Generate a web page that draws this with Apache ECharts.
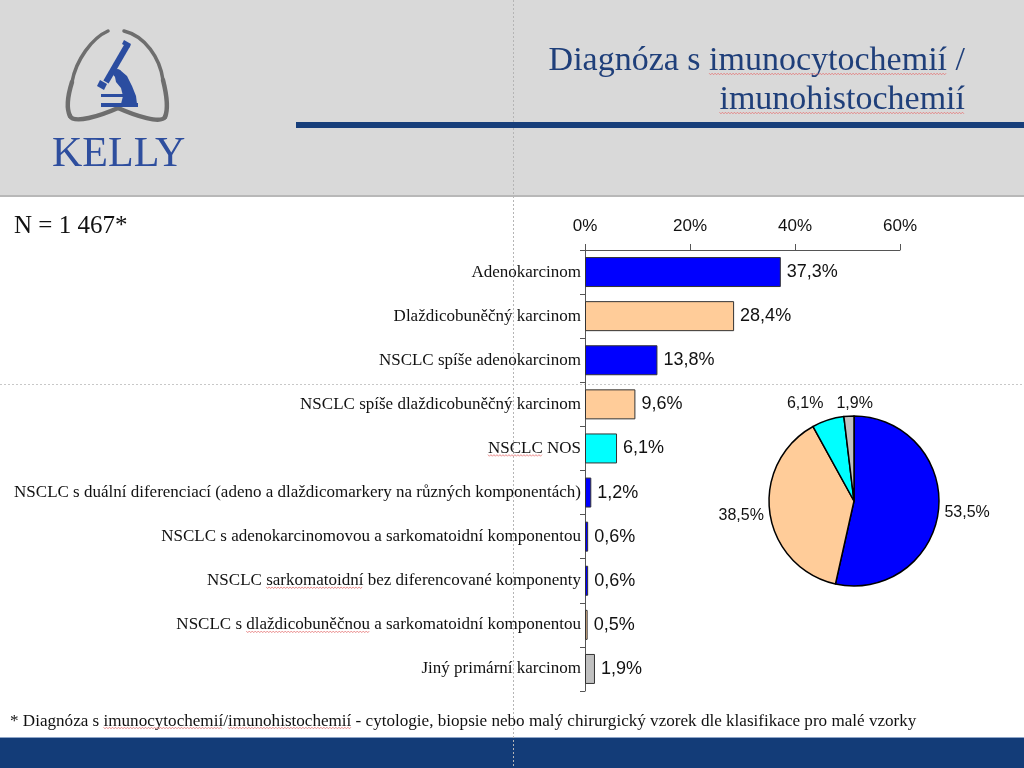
<!DOCTYPE html>
<html><head><meta charset="utf-8">
<script src="https://cdn.jsdelivr.net/npm/echarts@6/dist/echarts.min.js"></script>
<style>html,body{margin:0;padding:0;background:#fff;}#c{width:1024px;height:768px;}</style>
</head><body><div id="c"></div>
<script>
// ---- data ----
const categories = [
  'Adenokarcinom',
  'Dlaždicobuněčný karcinom',
  'NSCLC spíše adenokarcinom',
  'NSCLC spíše dlaždicobuněčný karcinom',
  'NSCLC NOS',
  'NSCLC s duální diferenciací (adeno a dlaždicomarkery na různých komponentách)',
  'NSCLC s adenokarcinomovou a sarkomatoidní komponentou',
  'NSCLC sarkomatoidní bez diferencované komponenty',
  'NSCLC s dlaždicobuněčnou a sarkomatoidní komponentou',
  'Jiný primární karcinom'
];
const barValues = [37.3, 28.4, 13.8, 9.6, 6.1, 1.2, 0.6, 0.6, 0.5, 1.9];
const barGroups = ['adeno','squam','adeno','squam','nos','adeno','adeno','adeno','squam','other'];
const pieGroups = ['adeno','squam','nos','other'];
const pieValues = [53.5, 38.5, 6.1, 1.9];
const xTicks = [0, 20, 40, 60];
const titleLines = ['Diagnóza s imunocytochemií /', 'imunohistochemií'];
const nText = 'N = 1 467*';
const footnote = '* Diagnóza s imunocytochemií/imunohistochemií - cytologie, biopsie nebo malý chirurgický vzorek dle klasifikace pro malé vzorky';
// words flagged by the spell checker (red wavy underline): [text, prefix before word, word]
const titleMarks = [[0, 'Diagnóza s ', 'imunocytochemií'], [1, '', 'imunohistochemií']];
const catMarks = [[4, '', 'NSCLC'], [7, 'NSCLC ', 'sarkomatoidní'], [8, 'NSCLC s ', 'dlaždicobuněčnou']];
const footMarks = [['* Diagnóza s ', 'imunocytochemií'], ['* Diagnóza s imunocytochemií/', 'imunohistochemií']];

// ---- styles ----
const groupColor = {adeno:'#0000FF', squam:'#FFCC99', nos:'#00FFFF', other:'#C0C0C0'};
const fmt = v => v.toFixed(1).replace('.', ',') + '%';
const serif = '"Liberation Serif", "DejaVu Serif", serif';
const sans = '"Liberation Sans", Arial, sans-serif';
const navy = '#1F3F7A';
const logoBlue = '#2B4DA0';
const lungGray = '#6E6E6E';
const titleFont = '34px ' + serif;
const catFont = '17px ' + serif;
const footFont = '17.1px ' + serif;
const titleBase = [71, 110];
const pieC = [854, 501], pieR = 85;

const chart = echarts.init(document.getElementById('c'), null, {renderer:'canvas'});
const mctx = document.createElement('canvas').getContext('2d');
function tw(text, font){ mctx.font = font; return mctx.measureText(text).width; }

function curve(x1,y1,c1x,c1y,c2x,c2y,x2,y2,w){
  return {type:'bezierCurve', shape:{x1:x1,y1:y1,cpx1:c1x,cpy1:c1y,cpx2:c2x,cpy2:c2y,x2:x2,y2:y2},
    style:{stroke:lungGray,lineWidth:w||4,fill:null,lineCap:'round'}};
}
function poly(pts){ return {type:'polygon', shape:{points:pts}, style:{fill:logoBlue}}; }
function wavy(x1, x2, y){
  const pts = []; let k = 0;
  for (let x = x1; x <= x2; x += 1.5, k++) pts.push([x, y + (k % 2 ? 0.8 : -0.8)]);
  return {type:'polyline', shape:{points:pts}, style:{stroke:'#E57373', lineWidth:0.8, fill:null}, z:5};
}

const graphics = [
  {type:'rect', shape:{x:0,y:0,width:1024,height:195}, style:{fill:'#D9D9D9'}, z:-10},
  {type:'rect', shape:{x:0,y:195,width:1024,height:2}, style:{fill:'#B8B8B8'}, z:-10},
  {type:'rect', shape:{x:0,y:738,width:1024,height:30}, style:{fill:'#133C78'}, z:-10},
  {type:'rect', shape:{x:0,y:737,width:1024,height:1}, style:{fill:'#8FA6C8'}, z:-10},
  // guides
  {type:'line', shape:{x1:513.5,y1:0,x2:513.5,y2:768}, style:{stroke:'#B5B5B5',lineWidth:1,lineDash:[2,2]}, z:-5},
  {type:'line', shape:{x1:0,y1:384.5,x2:1024,y2:384.5}, style:{stroke:'#C8C8C8',lineWidth:1,lineDash:[2,2]}, z:-5},
  // title underline bar
  {type:'rect', shape:{x:296,y:122,width:728,height:6}, style:{fill:'#173E7A'}, z:-4},
  // title (middle-aligned; baseline sits ~0.305em below the middle)
  {type:'text', style:{text:titleLines[0], x:965, y:titleBase[0] - 10.4, align:'right', verticalAlign:'middle', font:titleFont, fill:navy}},
  {type:'text', style:{text:titleLines[1], x:965, y:titleBase[1] - 10.4, align:'right', verticalAlign:'middle', font:titleFont, fill:navy}},
  // logo lungs
  curve(108,31, 92,38, 76,60, 72,82, 3.5),
  curve(72,82, 67,98, 67,110, 70,116, 4.5),
  curve(70,116, 74,124, 100,116, 118,108, 4.5),
  curve(124,31, 145,36, 160,58, 163,80, 3.5),
  curve(163,80, 167,96, 168,110, 165,117, 4.5),
  curve(165,117, 161,124, 136,116, 118,108, 4.5),
  // microscope
  poly([[130.6,45.5],[125.4,42.5],[103.4,80.5],[108.6,83.5]]),
  poly([[124,40],[131,44],[129,48],[122,44]]),
  poly([[100,80],[107,84],[104,90],[97,86]]),
  poly([[114,72],[120,70],[127,76],[132,86],[136,96],[137,104],[121,104],[123,96],[121,88],[116,82]]),
  {type:'circle', shape:{cx:117,cy:73,r:4}, style:{fill:logoBlue}},
  {type:'rect', shape:{x:101,y:94,width:22,height:3}, style:{fill:logoBlue}},
  {type:'rect', shape:{x:101,y:103,width:37,height:4}, style:{fill:logoBlue}},
  {type:'text', style:{text:'KELLY', x:52, y:155, align:'left', verticalAlign:'middle', font:'42px '+serif, fill:'#2E4E9E'}},
  // N and footnote
  {type:'text', style:{text:nText, x:14, y:226, align:'left', verticalAlign:'middle', font:'25px '+serif, fill:'#111'}},
  {type:'text', style:{text:footnote, x:10, y:721, align:'left', verticalAlign:'middle', font:footFont, fill:'#111'}}
];

// spell-check underlines in title and footnote
titleMarks.forEach(([li, pre, word]) => {
  const full = tw(titleLines[li], titleFont);
  const x0 = 965 - full + tw(pre, titleFont);
  graphics.push(wavy(x0, x0 + tw(word, titleFont), titleBase[li] + 3));
});
footMarks.forEach(([pre, word]) => {
  const x0 = 10 + tw(pre, footFont);
  graphics.push(wavy(x0, x0 + tw(word, footFont), 728));
});

// pie label placement: big slices beside the pie, small ones above it
const pieTotal = pieValues.reduce((a,b)=>a+b,0);
let acc = 0;
const pieMid = pieValues.map(v => { const m = (acc + v/2) / pieTotal * 2 * Math.PI; acc += v; return m; });

chart.setOption({
  animation:false,
  backgroundColor:'#fff',
  graphic: graphics,
  grid:{left:585, right:124, top:250, bottom:77, containLabel:false},
  xAxis:{
    type:'value', position:'top', min:xTicks[0], max:xTicks[xTicks.length-1], interval:20,
    axisLine:{show:true, lineStyle:{color:'#555', width:1}},
    axisTick:{show:true, length:6, lineStyle:{color:'#555'}},
    splitLine:{show:false},
    axisLabel:{formatter:'{value}%', fontFamily:sans, fontSize:17, color:'#111', margin:15}
  },
  yAxis:{
    type:'category', inverse:true, data:categories,
    axisLine:{show:true, lineStyle:{color:'#555', width:1}},
    axisTick:{show:true, length:5, lineStyle:{color:'#555'}},
    axisLabel:{fontFamily:serif, fontSize:17, color:'#111', margin:4}
  },
  series:[
    {
      type:'bar', barCategoryGap:'32%',
      data: barValues.map((v,i)=>({value:v, itemStyle:{color:groupColor[barGroups[i]]}})),
      itemStyle:{borderColor:'#333', borderWidth:1},
      label:{show:true, position:'right', distance:6, formatter:p=>fmt(p.value), fontFamily:sans, fontSize:18, color:'#111'}
    },
    {
      type:'pie', center:pieC, radius:pieR, startAngle:90, clockwise:true,
      data: pieValues.map((v,i)=>({name:pieGroups[i], value:v, itemStyle:{color:groupColor[pieGroups[i]]}})),
      itemStyle:{borderColor:'#000', borderWidth:1.5},
      label:{show:true, position:'outside', formatter:p=>fmt(p.value), fontFamily:sans, fontSize:16, color:'#111'},
      labelLine:{show:false, length:4, length2:0},
      labelLayout: function(p){
        const i = p.dataIndex, a = pieMid[i];
        const sx = Math.sin(a), cy = -Math.cos(a);
        if (cy < -0.9) {
          const R = pieR + 15;
          const xr = pieC[0] + R * Math.sin(pieMid[2]);
          if (i === 2) return {x: xr, y: pieC[1] - pieR - 4, align:'right', verticalAlign:'bottom'};
          return {x: xr + 13, y: pieC[1] - pieR - 4, align:'left', verticalAlign:'bottom'};
        }
        const R = pieR + 6;
        return {x: pieC[0] + R*sx, y: pieC[1] + R*cy + 2, align: sx > 0 ? 'left' : 'right', verticalAlign:'middle'};
      },
      emphasis:{disabled:true}
    }
  ]
});

// spell-check underlines under flagged category labels
const catExtra = catMarks.map(([ci, pre, word]) => {
  const yc = chart.convertToPixel({yAxisIndex:0}, categories[ci]);
  const right = 585 - 4;
  const x0 = right - tw(categories[ci], catFont) + tw(pre, catFont);
  return wavy(x0, x0 + tw(word, catFont), yc + 7);
});
chart.setOption({graphic: graphics.concat(catExtra)});
</script></body></html>
